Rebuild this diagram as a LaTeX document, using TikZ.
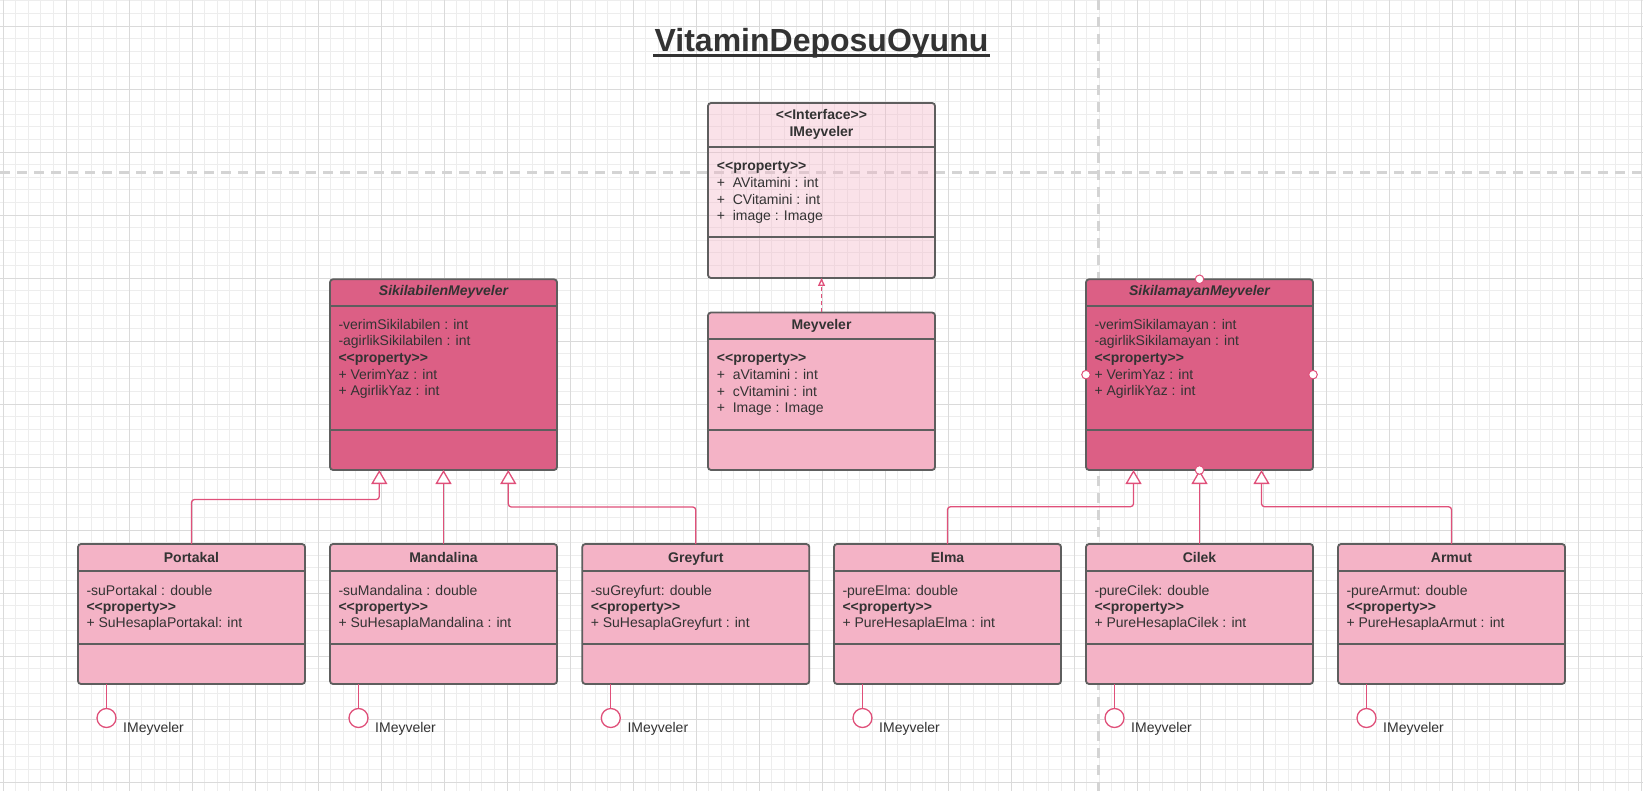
\documentclass[tikz,border=0pt]{standalone}
\usepackage{fontspec}
\setmainfont{Liberation Sans}
\usetikzlibrary{arrows.meta,calc}
\definecolor{txtc}{HTML}{333333}
\definecolor{bord}{HTML}{5E5E5E}
\definecolor{pinkmid}{HTML}{F4B3C6}
\definecolor{pinkdark}{HTML}{DC5F85}
\definecolor{connc}{HTML}{E0507A}
\definecolor{gridminor}{HTML}{EDEDED}
\definecolor{gridmajor}{HTML}{DADADA}
\definecolor{guide}{HTML}{D4D4D4}
\newcommand\dlt{<\kern0pt<}
\newcommand\dgt{>\kern0pt>}
\newcommand\propline{\textbf{\dlt property\dgt}}
\newcommand\lowerbox[5]{%
  \node[box, fill=pinkmid, minimum width=227pt, minimum height=140pt, anchor=north west] (#1) at (#2,544) {};
  \draw[div] ($(#1.north west)+(0,27)$) -- ($(#1.north east)+(0,27)$);
  \draw[div] ($(#1.north west)+(0,99.7)$) -- ($(#1.north east)+(0,99.7)$);
  \node[hdr] (#1-t) at ($(#1.north)+(0,18)$) {#3};
  \node[txt] (#1-a) at ($(#1.north west)+(8.3,51)$) {#4};
  \node[txt] (#1-p) at ($(#1.north west)+(8.3,67)$) {\propline};
  \node[txt] (#1-m) at ($(#1.north west)+(8.3,83)$) {#5};
  \node[lolli] (#1-c) at ($(#1.south west)+(28.5,34)$) {};
  \draw[conn] (#1.south -| #1-c) -- (#1-c);
  \node[txt] (#1-i) at ($(#1.south west)+(45,48.7)$) {IMeyveler};
}
\begin{document}
\begin{tikzpicture}[x=1pt,y=-1pt,
  every node/.style={text=txtc},
  font=\fontsize{14}{16.5}\selectfont,
  box/.style={draw=bord, line width=1.8pt, rounded corners=3pt, inner sep=0pt, outer sep=0pt},
  div/.style={draw=bord, line width=1.8pt},
  hdr/.style={font=\fontsize{14}{16.5}\selectfont\bfseries, inner sep=0pt, anchor=base},
  txt/.style={inner sep=0pt, anchor=base west},
  conn/.style={draw=connc, line width=1.3pt},
  gen/.style={conn, rounded corners=3pt, -{Triangle[length=14pt,width=16pt,fill=white]}},
  real/.style={conn, dash pattern=on 4pt off 3pt, -{Triangle[length=8pt,width=7pt,fill=white]}},
  lolli/.style={circle, draw=connc, line width=1.3pt, fill=white, minimum size=19pt, inner sep=0pt},
  handle/.style={circle, draw=connc, line width=1pt, fill=white, minimum size=8.6pt, inner sep=0pt},
  gminor/.style={draw=gridminor, line width=0.8pt},
  gmajor/.style={draw=gridmajor, line width=0.9pt},
  guideline/.style={draw=guide, line width=3pt, dash pattern=on 10pt off 7pt}
]
\useasboundingbox (0,0) rectangle (1643,791);
\fill[white] (0,0) rectangle (1643,791);
% grid
\foreach \i in {0,...,130} \draw[gminor] ({3+12.6*\i},0) -- ({3+12.6*\i},791);
\foreach \i in {0,...,62} \draw[gminor] (0,{0.8+12.6*\i}) -- (1643,{0.8+12.6*\i});
\foreach \i in {0,...,26} \draw[gmajor] ({3+63*\i},0) -- ({3+63*\i},791);
\foreach \i in {0,...,12} \draw[gmajor] (0,{26+63*\i}) -- (1643,{26+63*\i});
% guides
\draw[guideline] (1098.3,0) -- (1098.3,791);
\draw[guideline] (0,173) -- (1643,173);

% title
\node[font=\fontsize{32}{36}\selectfont\bfseries, inner sep=0pt, anchor=base] (title) at (821.5,51.7) {VitaminDeposuOyunu};
\draw[txtc, line width=2.2pt] ($(title.base west)+(-1,3.8)$) -- ($(title.base east)+(1,3.8)$);

% IMeyveler interface
\node[box, fill=pinkmid, fill opacity=0.37, minimum width=227pt, minimum height=175pt, anchor=north west] (imey) at (708,103) {};
\draw[div] ($(imey.north west)+(0,44)$) -- ($(imey.north east)+(0,44)$);
\draw[div] ($(imey.north west)+(0,134)$) -- ($(imey.north east)+(0,134)$);
\node[hdr] (imey-s) at ($(imey.north)+(0,17)$) {\dlt Interface\dgt};
\node[hdr] (imey-t) at ($(imey.north)+(0,33.7)$) {IMeyveler};
\node[txt] (imey-p) at ($(imey.north west)+(8.7,67.7)$) {\propline};
\node[txt] (imey-a) at ($(imey.north west)+(8.7,84.5)$) {+\ \ AVitamini : int};
\node[txt] (imey-c) at ($(imey.north west)+(8.7,101.3)$) {+\ \ CVitamini : int};
\node[txt] (imey-i) at ($(imey.north west)+(8.7,118)$) {+\ \ image : Image};

% Meyveler
\node[box, fill=pinkmid, minimum width=227pt, minimum height=157.5pt, anchor=north west] (mey) at (708,312.5) {};
\draw[div] ($(mey.north west)+(0,26.5)$) -- ($(mey.north east)+(0,26.5)$);
\draw[div] ($(mey.north west)+(0,117.5)$) -- ($(mey.north east)+(0,117.5)$);
\node[hdr] (mey-t) at ($(mey.north)+(0,17.5)$) {Meyveler};
\node[txt] (mey-p) at ($(mey.north west)+(8.7,50)$) {\propline};
\node[txt] (mey-a) at ($(mey.north west)+(8.7,66.8)$) {+\ \ aVitamini : int};
\node[txt] (mey-c) at ($(mey.north west)+(8.7,83.6)$) {+\ \ cVitamini : int};
\node[txt] (mey-i) at ($(mey.north west)+(8.7,100.4)$) {+\ \ Image : Image};

% SikilabilenMeyveler
\node[box, fill=pinkdark, minimum width=227pt, minimum height=190.7pt, anchor=north west] (smb) at (330,279.3) {};
\draw[div] ($(smb.north west)+(0,26.7)$) -- ($(smb.north east)+(0,26.7)$);
\draw[div] ($(smb.north west)+(0,150.7)$) -- ($(smb.north east)+(0,150.7)$);
\node[hdr, font=\fontsize{14}{16.5}\selectfont\bfseries\itshape] (smb-t) at ($(smb.north)+(0,16.4)$) {SikilabilenMeyveler};
\node[txt] (smb-1) at ($(smb.north west)+(8.3,50)$) {-verimSikilabilen : int};
\node[txt] (smb-2) at ($(smb.north west)+(8.3,66.6)$) {-agirlikSikilabilen : int};
\node[txt] (smb-3) at ($(smb.north west)+(8.3,83.2)$) {\propline};
\node[txt] (smb-4) at ($(smb.north west)+(8.3,99.8)$) {+ VerimYaz : int};
\node[txt] (smb-5) at ($(smb.north west)+(8.3,116.4)$) {+ AgirlikYaz : int};

% SikilamayanMeyveler
\node[box, fill=pinkdark, minimum width=227pt, minimum height=190.7pt, anchor=north west] (smy) at (1086,279.3) {};
\draw[div] ($(smy.north west)+(0,26.7)$) -- ($(smy.north east)+(0,26.7)$);
\draw[div] ($(smy.north west)+(0,150.7)$) -- ($(smy.north east)+(0,150.7)$);
\node[hdr, font=\fontsize{14}{16.5}\selectfont\bfseries\itshape] (smy-t) at ($(smy.north)+(0,16.4)$) {SikilamayanMeyveler};
\node[txt] (smy-1) at ($(smy.north west)+(8.3,50)$) {-verimSikilamayan : int};
\node[txt] (smy-2) at ($(smy.north west)+(8.3,66.6)$) {-agirlikSikilamayan : int};
\node[txt] (smy-3) at ($(smy.north west)+(8.3,83.2)$) {\propline};
\node[txt] (smy-4) at ($(smy.north west)+(8.3,99.8)$) {+ VerimYaz : int};
\node[txt] (smy-5) at ($(smy.north west)+(8.3,116.4)$) {+ AgirlikYaz : int};

% lower classes
\lowerbox{port}{78}{Portakal}{-suPortakal : double}{+ SuHesaplaPortakal: int}
\lowerbox{mand}{330}{Mandalina}{-suMandalina : double}{+ SuHesaplaMandalina : int}
\lowerbox{grey}{582.3}{Greyfurt}{-suGreyfurt: double}{+ SuHesaplaGreyfurt : int}
\lowerbox{elma}{834}{Elma}{-pureElma: double}{+ PureHesaplaElma : int}
\lowerbox{cilek}{1086}{Cilek}{-pureCilek: double}{+ PureHesaplaCilek : int}
\lowerbox{armut}{1338}{Armut}{-pureArmut: double}{+ PureHesaplaArmut : int}

% generalizations
\draw[gen] (port.north) -- ++(0,-44.5) -| ($(smb.south)+(-64.2,0)$);
\draw[gen] (mand.north) -- (smb.south);
\draw[gen] (grey.north) -- ++(0,-37) -| ($(smb.south)+(64.8,0)$);
\draw[gen] (elma.north) -- ++(0,-37.3) -| ($(smy.south)+(-66,0)$);
\draw[gen] (cilek.north) -- (smy.south);
\draw[gen] (armut.north) -- ++(0,-37.3) -| ($(smy.south)+(62,0)$);

% realization
\draw[real] (mey.north) -- (imey.south);

% selection handles
\node[handle] (hn) at (smy.north) {};
\node[handle] (hs) at (smy.south) {};
\node[handle] (hw) at (smy.west) {};
\node[handle] (he) at (smy.east) {};
\end{tikzpicture}
\end{document}
